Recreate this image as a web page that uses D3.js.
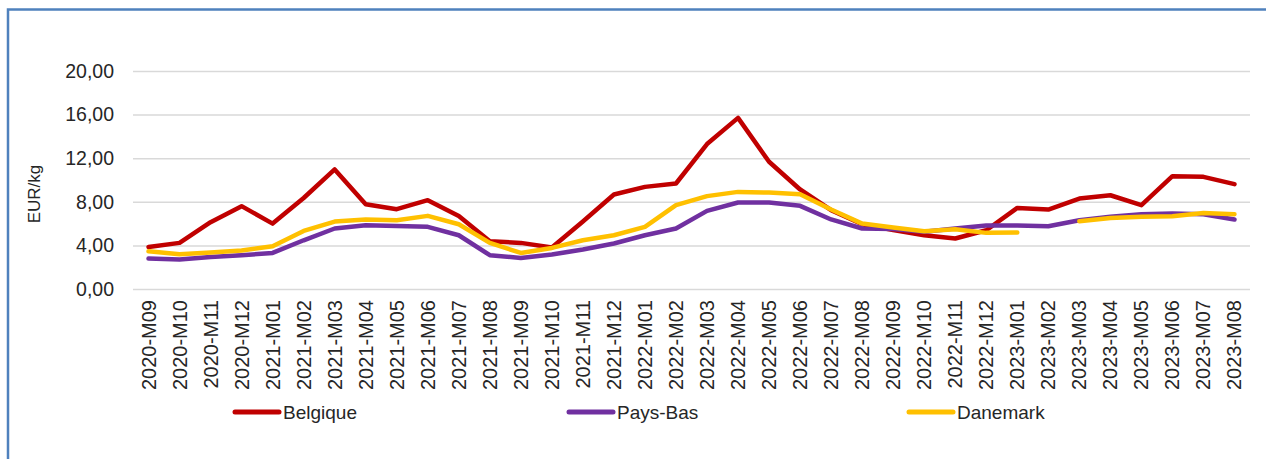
<!DOCTYPE html>
<html>
<head>
<meta charset="utf-8">
<script src="https://cdn.jsdelivr.net/npm/d3@7"></script>
<style>
  html, body { margin: 0; padding: 0; background: #fff; }
  svg { display: block; font-family: "Liberation Sans", Arial, sans-serif; }
</style>
</head>
<body>
<svg id="chart" width="1266" height="459"></svg>
<script>
// months shown on the x axis
const months = [
  '2020-M09', '2020-M10', '2020-M11', '2020-M12',
  '2021-M01', '2021-M02', '2021-M03', '2021-M04', '2021-M05', '2021-M06',
  '2021-M07', '2021-M08', '2021-M09', '2021-M10', '2021-M11', '2021-M12',
  '2022-M01', '2022-M02', '2022-M03', '2022-M04', '2022-M05', '2022-M06',
  '2022-M07', '2022-M08', '2022-M09', '2022-M10', '2022-M11', '2022-M12',
  '2023-M01', '2023-M02', '2023-M03', '2023-M04', '2023-M05', '2023-M06',
  '2023-M07', '2023-M08',
];

// EUR/kg
const belgique = [
  3.86, 4.23, 6.13, 7.6, 6.0, 8.35, 10.97, 7.78, 7.32, 8.15, 6.7, 4.38,
  4.23, 3.8, 6.2, 8.67, 9.37, 9.68, 13.3, 15.7, 11.67, 9.13, 7.23, 5.94,
  5.4, 4.93, 4.63, 5.39, 7.44, 7.29, 8.3, 8.6, 7.69, 10.35, 10.29, 9.62,
];
const paysBas = [
  2.79, 2.7, 2.94, 3.1, 3.31, 4.47, 5.55, 5.85, 5.79, 5.7, 4.93, 3.1,
  2.85, 3.16, 3.62, 4.17, 4.93, 5.55, 7.17, 7.94, 7.94, 7.63, 6.38, 5.55,
  5.5, 5.25, 5.55, 5.82, 5.82, 5.76, 6.31, 6.62, 6.86, 6.92, 6.86, 6.37,
];
const danemark = [
  3.46, 3.19, 3.34, 3.53, 3.92, 5.33, 6.19, 6.38, 6.31, 6.71, 5.94, 4.23,
  3.31, 3.77, 4.47, 4.93, 5.7, 7.69, 8.52, 8.91, 8.85, 8.7, 7.29, 6.0,
  5.65, 5.3, 5.48, 5.15, 5.18, null, 6.22, 6.52, 6.62, 6.68, 6.98, 6.86,
];
const yTicks = [0, 4, 8, 12, 16, 20];

const series = [
  { name: 'Belgique', values: belgique, color: '#c00000' },
  { name: 'Pays-Bas', values: paysBas, color: '#7030a0' },
  { name: 'Danemark', values: danemark, color: '#ffc000' },
];

const svg = d3.select('#chart');
const margin = { left: 133, right: 16, top: 71, bottom: 170 };
const width = 1266 - margin.left - margin.right;
const height = 459 - margin.top - margin.bottom;

// outer frame (only top and left edges are inside the window)
svg.append('path')
  .attr('d', 'M8,1266V9.5H1266')
  .attr('fill', 'none')
  .attr('stroke', '#4f81bd')
  .attr('stroke-width', 2.5);

const g = svg.append('g').attr('transform', `translate(${margin.left},${margin.top})`);

const x = d3.scaleBand().domain(months).range([0, width]);
const y = d3.scaleLinear().domain([0, 20]).range([height, 0]);
const fmt = (v) => d3.format('.2f')(v).replace('.', ',');

// gridlines + y labels
const yAxis = g.append('g')
  .call(d3.axisLeft(y).tickValues(yTicks).tickSize(-width).tickFormat(fmt).tickPadding(19));
yAxis.select('.domain').remove();
yAxis.selectAll('.tick line').attr('stroke', '#d9d9d9').attr('stroke-width', 1.5);
yAxis.selectAll('.tick text')
  .attr('fill', '#262626')
  .style('font-size', '19.5px')
  .style('font-family', '"Liberation Sans", Arial, sans-serif');

// x labels, rotated
const xAxis = g.append('g')
  .attr('transform', `translate(0,${height})`)
  .call(d3.axisBottom(x).tickSize(0).tickPadding(0));
xAxis.select('.domain').remove();
xAxis.selectAll('.tick text')
  .attr('fill', '#262626')
  .style('font-size', '20px')
  .style('font-family', '"Liberation Sans", Arial, sans-serif')
  .attr('text-anchor', 'end')
  .attr('transform', 'translate(7,11) rotate(-90)')
  .attr('dy', 0)
  .attr('y', 0)
  .attr('x', 0);

// y title
svg.append('text')
  .attr('transform', 'translate(40,194) rotate(-90)')
  .attr('text-anchor', 'middle')
  .attr('fill', '#262626')
  .style('font-size', '17px')
  .text('EUR/kg');

// lines
const line = d3.line()
  .defined((d) => d !== null)
  .x((d, i) => x(months[i]) + x.bandwidth() / 2)
  .y((d) => y(d));

series.forEach((s) => {
  g.append('path')
    .datum(s.values)
    .attr('fill', 'none')
    .attr('stroke', s.color)
    .attr('stroke-width', 4.5)
    .attr('stroke-linejoin', 'round')
    .attr('stroke-linecap', 'round')
    .attr('d', line);
});

// legend
const legendX = [233, 567, 907];
const legend = svg.append('g');
series.forEach((s, i) => {
  const lg = legend.append('g').attr('transform', `translate(${legendX[i]},412)`);
  lg.append('line')
    .attr('x1', 2).attr('x2', 46)
    .attr('stroke', s.color)
    .attr('stroke-width', 5)
    .attr('stroke-linecap', 'round');
  lg.append('text')
    .attr('x', 50)
    .attr('dy', '0.35em')
    .attr('fill', '#262626')
    .style('font-size', '19px')
    .text(s.name);
});
</script>
</body>
</html>
